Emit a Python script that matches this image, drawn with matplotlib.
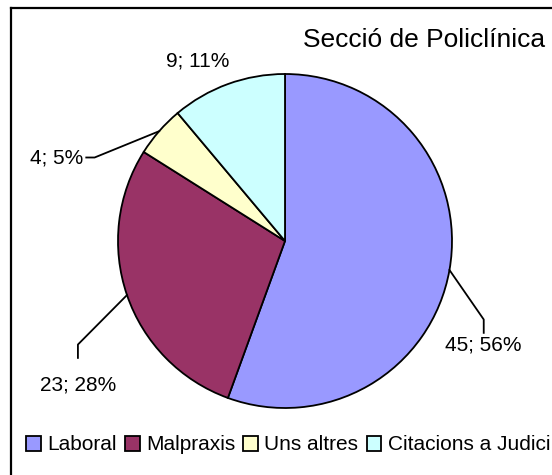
import matplotlib
matplotlib.use("Agg")
import matplotlib.pyplot as plt
from matplotlib.lines import Line2D
import numpy as np

plt.rcParams['font.family'] = ['Liberation Sans', 'DejaVu Sans']

# data
categories = ['Laboral', 'Malpraxis', 'Uns altres', 'Citacions a Judici']
values = [45, 23, 4, 9]
colors = ['#9999FF', '#993366', '#FFFFCC', '#CCFFFF']
title = 'Secció de Policlínica'

# label placement (in radius units) and elbow of leader line
label_pos = [(1.19, -0.62), (-1.24, -0.86), (-1.37, 0.50), (-0.52, 1.08)]
elbow = [(1.19, -0.47), (-1.24, -0.62), None, None]
has_leader = [True, True, True, False]

W, H = 552, 475
fig = plt.figure(figsize=(W / 100, H / 100), dpi=100)
cx, cy, r = 285, 241, 167
ax = fig.add_axes([(cx - r) / W, (H - cy - r) / H, 2 * r / W, 2 * r / H])

wedges, _ = ax.pie(values, colors=colors, startangle=90, counterclock=False,
                   radius=1, wedgeprops=dict(edgecolor='black', linewidth=1.3))
ax.set_xlim(-1, 1)
ax.set_ylim(-1, 1)
ax.set_aspect('equal')
ax.axis('off')

total = sum(values)
for i, (w, v) in enumerate(zip(wedges, values)):
    mid = np.deg2rad((w.theta1 + w.theta2) / 2)
    ex, ey = np.cos(mid), np.sin(mid)
    lx, ly = label_pos[i]
    txt = f'{v}; {round(100 * v / total)}%'
    ax.text(lx, ly, txt, ha='center', va='center', fontsize=15, clip_on=False)
    if i == 2:
        ax.plot([ex, lx + 0.23, lx + 0.18], [ey, ly, ly], color='black',
                lw=1.3, clip_on=False)
    elif has_leader[i]:
        bx, by = elbow[i]
        ax.plot([ex, bx, bx], [ey, by, by - 0.08], color='black', lw=1.3,
                clip_on=False)

fig.text(545 / W, 1 - 40 / H, title, ha='right', va='center', fontsize=19)

leg = fig.legend(wedges, categories, loc='center left',
                 bbox_to_anchor=(16 / W, 1 - 445 / H), ncol=4, frameon=False,
                 fontsize=15, handlelength=0.7, handleheight=0.7,
                 handletextpad=0.3, columnspacing=0.4, borderpad=0)

# outer frame (partially cut off at right and bottom)
fig.add_artist(Line2D([11 / W, 11 / W], [0, 1 - 8 / H], color='black', lw=1.6,
                      transform=fig.transFigure))
fig.add_artist(Line2D([11 / W, 1], [1 - 8 / H, 1 - 8 / H], color='black', lw=1.6,
                      transform=fig.transFigure))

fig.savefig('out.png', dpi=100)
